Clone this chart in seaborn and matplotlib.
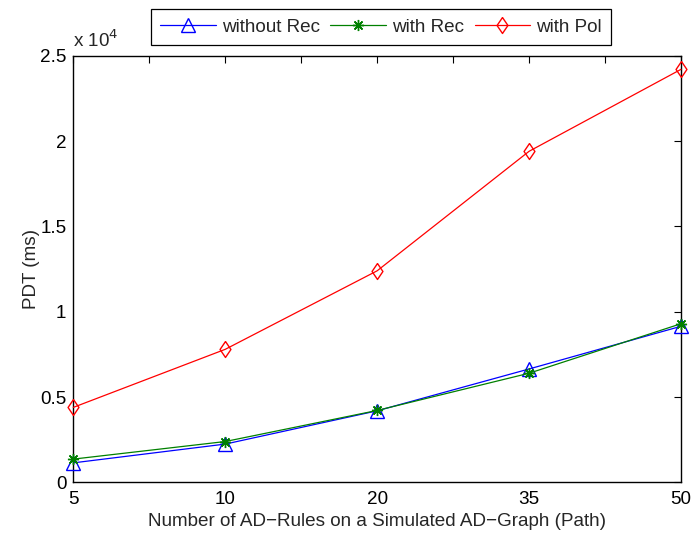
import numpy as np
import pandas as pd
import matplotlib
matplotlib.use("Agg")
import matplotlib.pyplot as plt
import seaborn as sns

categories = ["5", "10", "20", "35", "50"]
without_rec = [1150, 2250, 4200, 6650, 9150]
with_rec = [1370, 2400, 4220, 6400, 9300]
with_pol = [4400, 7800, 12400, 19400, 24200]
ytick_vals = [0, 5000, 10000, 15000, 20000, 25000]
ytick_labels = ["0", "0.5", "1", "1.5", "2", "2.5"]

sns.set_style("white")
plt.rcParams["font.family"] = ["Liberation Sans", "DejaVu Sans"]
FS = 13.6
plt.rcParams["font.size"] = FS
plt.rcParams["xtick.direction"] = "in"
plt.rcParams["ytick.direction"] = "in"

fig = plt.figure(figsize=(6.93, 5.37), dpi=100)
ax = fig.add_axes([0.1058, 0.1015, 0.9827 - 0.1058, 0.8963 - 0.1015])

diamond = [(0, 1), (0.68, 0), (0, -1), (-0.68, 0), (0, 1)]
pos = np.arange(len(categories))
series = [
    ("without Rec", without_rec, "#0000ff", "^", 9.5, 1.0),
    ("with Rec", with_rec, "#008000", (8, 2, 0), 8, 1.0),
    ("with Pol", with_pol, "#ff0000", diamond, 11.5, 1.0),
]
for name, vals, col, mk, ms, mew in series:
    sns.lineplot(x=pos, y=vals, ax=ax, color=col, marker=mk, markersize=ms,
                 markerfacecolor="none", markeredgecolor=col, markeredgewidth=mew,
                 linewidth=0.9, label=name, clip_on=False, zorder=3)

ax.set_xlim(0, len(categories) - 1)
ax.set_ylim(0, 25000)
ax.set_xticks(pos)
ax.set_xticklabels(categories)
ax.set_xticks(np.arange(0.5, len(categories) - 1, 1.0), minor=True)
ax.set_yticks(ytick_vals)
ax.set_yticklabels(ytick_labels)
ax.tick_params(axis="both", which="both", direction="in", length=5, width=0.8,
               top=True, right=True, labelsize=FS, colors="black")
ax.tick_params(axis="x", which="both", pad=6)
ax.tick_params(axis="y", which="both", pad=5)
for sp in ax.spines.values():
    sp.set_visible(True)
    sp.set_color("black")
    sp.set_linewidth(1.0)

ax.set_xlabel("Number of AD\u2212Rules on a Simulated AD\u2212Graph (Path)", fontsize=FS, labelpad=4)
ax.set_ylabel("PDT (ms)", fontsize=FS, labelpad=0)
ax.text(0.0, 1.012, "x 10$^{4}$", transform=ax.transAxes, ha="left", va="bottom", fontsize=FS)

ax.get_legend().remove()
handles, labels = ax.get_legend_handles_labels()
leg = fig.legend(handles, labels, loc="center", bbox_to_anchor=(0.55, 0.949), ncol=3,
                 frameon=True, fancybox=False, edgecolor="black", framealpha=1,
                 fontsize=FS, handlelength=2.95, columnspacing=0.55, handletextpad=0.32,
                 borderpad=0.5, borderaxespad=0)
leg.get_frame().set_linewidth(0.9)

fig.savefig("out.png", dpi=100)
